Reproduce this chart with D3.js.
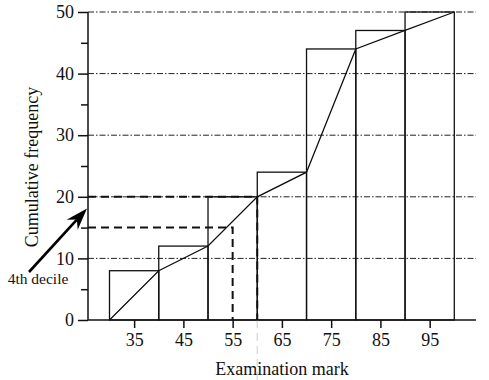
<!DOCTYPE html>
<html>
<head>
<meta charset="utf-8">
<script src="https://cdn.jsdelivr.net/npm/d3@7"></script>
<style>
  html, body { margin: 0; padding: 0; background: #fff; }
  svg { display: block; }
  text { font-family: "Liberation Serif", "Times New Roman", serif; fill: #111; }
</style>
</head>
<body>
<svg id="chart" width="489" height="380"></svg>
<script>
// ---- data ----
const classLower = [30, 40, 50, 60, 70, 80, 90];
const classUpper = [40, 50, 60, 70, 80, 90, 100];
const cumFreq    = [8, 12, 20, 24, 44, 47, 50];
const polyMarks  = [30, 40, 50, 60, 70, 80, 90, 100];
const polyFreq   = [0, 8, 12, 20, 24, 44, 47, 50];
const xTickVals  = [35, 45, 55, 65, 75, 85, 95];
const yMajorTicks = [0, 10, 20, 30, 40, 50];
const yMinorTicks = [5, 15, 25, 35, 45];
const readings = [ {freq: 20, mark: 60}, {freq: 15, mark: 55} ];
const xLabel = "Examination mark";
const yLabel = "Cumulative frequency";
const noteLabel = "4th decile";

// ---- scales ----
const x = d3.scaleLinear().domain([30, 100]).range([109.5, 454.3]);
const y = d3.scaleLinear().domain([0, 50]).range([320, 12]);
const xAxisExtent = [x.invert(88), x.invert(476)];

const svg = d3.select("#chart");

// gridlines (dash-dot)
svg.append("g").selectAll("line").data(yMajorTicks.filter(d => d > 0)).join("line")
  .attr("x1", x(xAxisExtent[0])).attr("x2", x(xAxisExtent[1]))
  .attr("y1", d => y(d)).attr("y2", d => y(d))
  .attr("stroke", "#222").attr("stroke-width", 1)
  .attr("stroke-dasharray", "6,2,1.5,2");

// histogram bars
svg.append("g").selectAll("rect").data(cumFreq).join("rect")
  .attr("x", (d, i) => x(classLower[i]))
  .attr("width", (d, i) => x(classUpper[i]) - x(classLower[i]))
  .attr("y", d => y(d))
  .attr("height", d => y(0) - y(d))
  .attr("fill", "none").attr("stroke", "#111").attr("stroke-width", 1.3);

// cumulative frequency polygon
const pts = polyMarks.map((m, i) => [m, polyFreq[i]]);
svg.append("path")
  .attr("d", d3.line().x(d => x(d[0])).y(d => y(d[1]))(pts))
  .attr("fill", "none").attr("stroke", "#111").attr("stroke-width", 1.3);

// faint artefact line below axis
svg.append("line")
  .attr("x1", x(readings[0].mark)).attr("x2", x(readings[0].mark))
  .attr("y1", y(0)).attr("y2", 380)
  .attr("stroke", "#ddd").attr("stroke-width", 1.5).attr("stroke-dasharray", "8,5");

// reading dashed lines
const rg = svg.append("g");
readings.forEach(r => {
  rg.append("path")
    .attr("d", `M${x(xAxisExtent[0])},${y(r.freq)}H${x(r.mark)}V${y(0)}`)
    .attr("fill", "none").attr("stroke", "#111").attr("stroke-width", 2)
    .attr("stroke-dasharray", "8,5");
});

// axes lines
svg.append("line")
  .attr("x1", x(xAxisExtent[0])).attr("x2", x(xAxisExtent[1]))
  .attr("y1", y(0)).attr("y2", y(0))
  .attr("stroke", "#111").attr("stroke-width", 1.5);
svg.append("line")
  .attr("x1", x(xAxisExtent[0])).attr("x2", x(xAxisExtent[0]))
  .attr("y1", y(0)).attr("y2", y(50))
  .attr("stroke", "#111").attr("stroke-width", 1.5);

// x axis ticks via d3.axisBottom
const xAxis = svg.append("g").attr("transform", `translate(0,${y(0)})`)
  .call(d3.axisBottom(x).tickValues(xTickVals).tickSize(8).tickSizeOuter(0).tickPadding(5));
xAxis.select(".domain").remove();
xAxis.selectAll(".tick line").attr("stroke", "#111").attr("stroke-width", 1.5);
xAxis.selectAll(".tick text").attr("font-size", 18).attr("font-family", "Liberation Serif").attr("fill", "#111");

// y axis major
const yAxis = svg.append("g").attr("transform", `translate(${x(xAxisExtent[0])},0)`)
  .call(d3.axisLeft(y).tickValues(yMajorTicks).tickSize(10).tickSizeOuter(0).tickPadding(4));
yAxis.select(".domain").remove();
yAxis.selectAll(".tick line").attr("stroke", "#111").attr("stroke-width", 1.5);
yAxis.selectAll(".tick text").attr("font-size", 18).attr("font-family", "Liberation Serif").attr("fill", "#111");

// y axis minor
const yMinor = svg.append("g").attr("transform", `translate(${x(xAxisExtent[0])},0)`)
  .call(d3.axisLeft(y).tickValues(yMinorTicks).tickSize(7).tickSizeOuter(0).tickFormat(""));
yMinor.select(".domain").remove();
yMinor.selectAll(".tick line").attr("stroke", "#111").attr("stroke-width", 1.5);

// axis titles
svg.append("text").attr("x", 282).attr("y", 375).attr("text-anchor", "middle")
  .attr("font-size", 18).text(xLabel);
svg.append("text").attr("transform", "translate(38,167) rotate(-90)").attr("text-anchor", "middle")
  .attr("font-size", 18).text(yLabel);

// annotation arrow
const tip = [x(xAxisExtent[0]) - 1, y(18.1)];
const tail = [29, 272];
const ang = Math.atan2(tip[1] - tail[1], tip[0] - tail[0]);
const hl = 22, hw = 7.5, back = 15;
const ux = Math.cos(ang), uy = Math.sin(ang);
const base = [tip[0] - ux * hl, tip[1] - uy * hl];
const notch = [tip[0] - ux * back, tip[1] - uy * back];
svg.append("line")
  .attr("x1", tail[0]).attr("y1", tail[1])
  .attr("x2", notch[0]).attr("y2", notch[1])
  .attr("stroke", "#000").attr("stroke-width", 2.6);
svg.append("path")
  .attr("d", `M${tip[0]},${tip[1]}L${base[0] - uy * hw},${base[1] + ux * hw}L${notch[0]},${notch[1]}L${base[0] + uy * hw},${base[1] - ux * hw}Z`)
  .attr("fill", "#000");
svg.append("text").attr("x", 38).attr("y", 284).attr("text-anchor", "middle")
  .attr("font-size", 15.5).text(noteLabel);
</script>
</body>
</html>
